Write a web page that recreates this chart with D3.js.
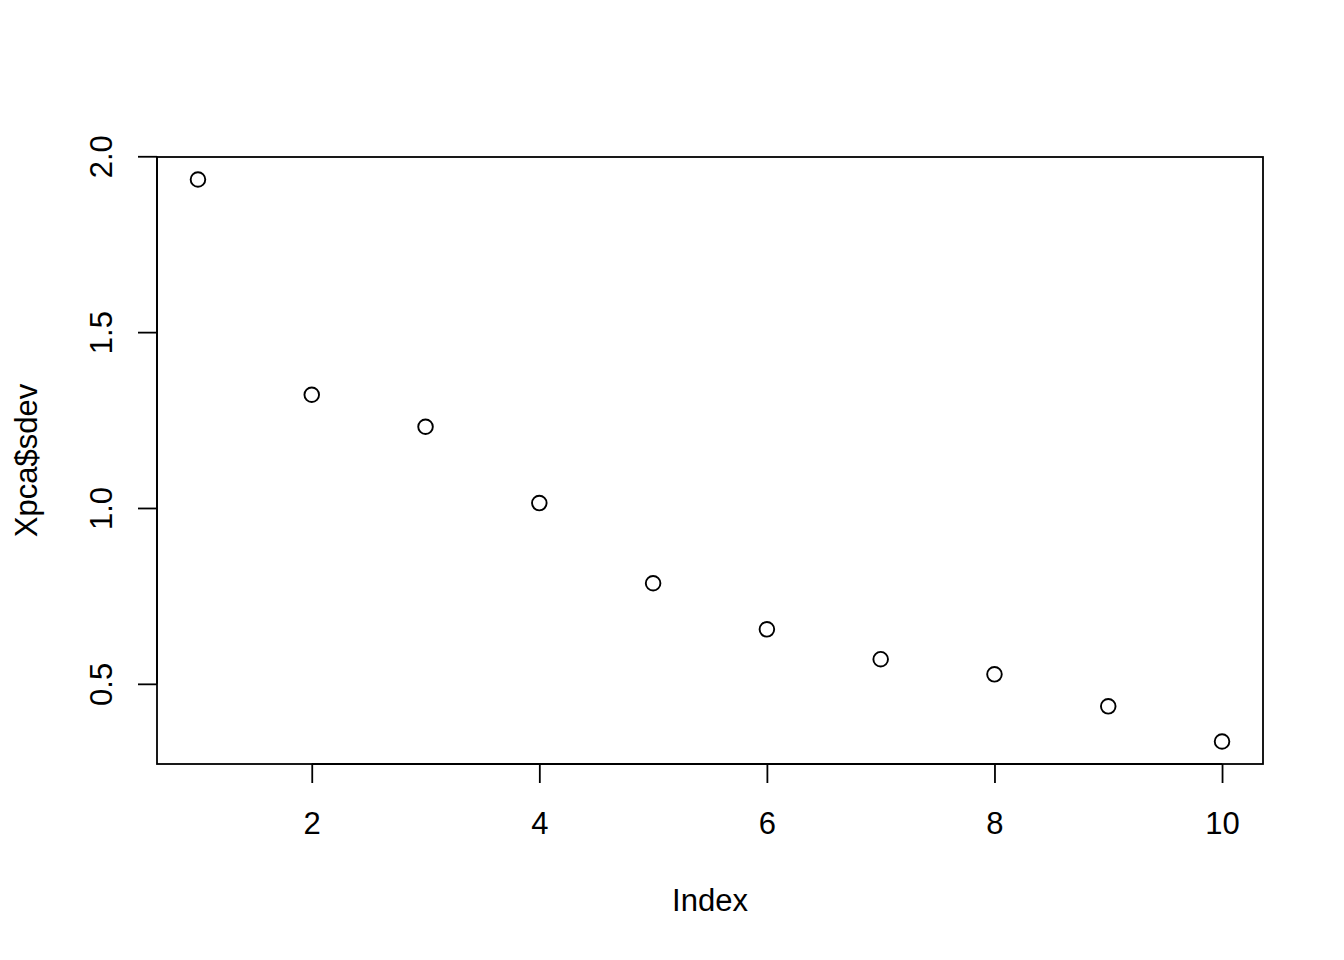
<!DOCTYPE html>
<html><head><meta charset="utf-8">
<script src="https://cdn.jsdelivr.net/npm/d3@7"></script>
<style>body{margin:0;background:#fff}svg{display:block}text{font-family:"Liberation Sans",Arial,sans-serif;fill:#000}</style>
</head><body><svg id="c" width="1344" height="960"></svg>
<script>
const indexValues = [1,2,3,4,5,6,7,8,9,10];
const sdevValues = [1.934,1.322,1.231,1.014,0.786,0.655,0.570,0.527,0.436,0.336];
const xTicks = [2,4,6,8,10];
const yTicks = [0.5,1.0,1.5,2.0];
const yTickLabels = ["0.5","1.0","1.5","2.0"];

const svg = d3.select("#c");
const L=157, R=1263, T=157, B=764;
const xmin=d3.min(indexValues), xmax=d3.max(indexValues), xr=(xmax-xmin)*0.04;
const ymin=d3.min(sdevValues), ymax=d3.max(sdevValues), yr=(ymax-ymin)*0.04;
const x=d3.scaleLinear().domain([xmin-xr,xmax+xr]).range([L,R]);
const y=d3.scaleLinear().domain([ymin-yr,ymax+yr]).range([B,T]);
const fs=31;
const ff="Liberation Sans, Arial, sans-serif";

const xa=svg.append("g").attr("transform",`translate(0,${B})`)
  .call(d3.axisBottom(x).tickValues(xTicks).tickFormat(d3.format("d")).tickSize(19));
xa.select(".domain").attr("d",`M${x(xTicks[0])},0H${x(xTicks[xTicks.length-1])}`);
const ya=svg.append("g").attr("transform",`translate(${L},0)`)
  .call(d3.axisLeft(y).tickValues(yTicks).tickFormat((d,i)=>yTickLabels[i]).tickSize(19));
ya.select(".domain").attr("d",`M0,${y(yTicks[0])}V${y(yTicks[yTicks.length-1])}`);
svg.selectAll(".tick line, .domain").attr("stroke","#000").attr("stroke-width",1.8);
xa.selectAll(".tick text").attr("font-size",fs).attr("font-family",ff).attr("fill","#000")
  .attr("y",70).attr("dy","0");
ya.selectAll(".tick text").attr("font-size",fs).attr("font-family",ff).attr("fill","#000")
  .attr("text-anchor","middle").attr("x",null).attr("dy","0")
  .attr("transform","translate(-45,0) rotate(-90)");

svg.append("rect").attr("x",L).attr("y",T).attr("width",R-L).attr("height",B-T)
  .attr("fill","none").attr("stroke","#000").attr("stroke-width",1.8);

svg.append("g").selectAll("circle").data(indexValues).join("circle")
  .attr("cx",d=>x(d)).attr("cy",(d,i)=>y(sdevValues[i])).attr("r",7.3)
  .attr("fill","none").attr("stroke","#000").attr("stroke-width",1.9);

svg.append("text").attr("x",(L+R)/2).attr("y",911).attr("text-anchor","middle").attr("font-size",fs).text("Index");
svg.append("text").attr("transform",`translate(37,${(T+B)/2}) rotate(-90)`).attr("text-anchor","middle").attr("font-size",fs).text("Xpca$sdev");
</script></body></html>
